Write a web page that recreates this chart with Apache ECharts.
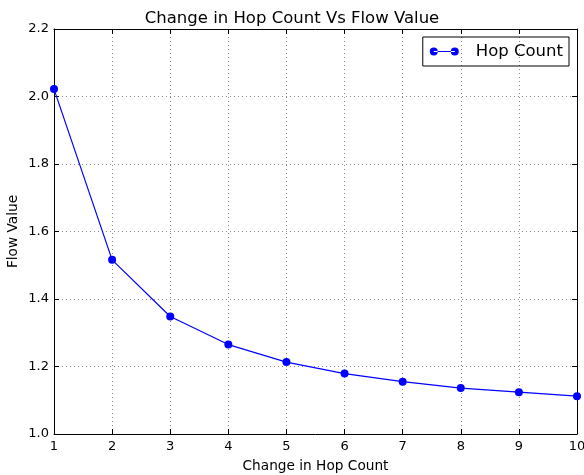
<!DOCTYPE html>
<html>
<head>
<meta charset="utf-8">
<script src="https://cdn.jsdelivr.net/npm/echarts@6/dist/echarts.min.js"></script>
<style>
  html, body { margin: 0; padding: 0; background: #fff; }
  #chart { width: 584px; height: 475px; }
</style>
</head>
<body>
<div id="chart"></div>
<script>
// data
const hopCount = [1, 2, 3, 4, 5, 6, 7, 8, 9, 10];
const flowValue = [2.022, 1.516, 1.348, 1.265, 1.213, 1.179, 1.155, 1.136, 1.124, 1.112];
const seriesName = 'Hop Count';

const chart = echarts.init(document.getElementById('chart'));
const font = 'DejaVu Sans';

// line with a dot at each end, like the matplotlib legend handle
const legendIcon = 'path://M0,5a5,5 0 1,0 10,0a5,5 0 1,0 -10,0Z' +
  'M26.25,5a5,5 0 1,0 10,0a5,5 0 1,0 -10,0Z' +
  'M5,4.3h26.25v1.4h-26.25Z';

const frameAxis = {
  type: 'value',
  axisLine: { show: true, onZero: false, lineStyle: { color: '#000', width: 1 } },
  axisTick: { show: true, inside: true, length: 5, lineStyle: { color: '#000' } },
  axisLabel: { show: false },
  splitLine: { show: false }
};

let option = {
  animation: false,
  textStyle: { fontFamily: font },
  title: {
    text: 'Change in Hop Count Vs Flow Value',
    left: 'center',
    top: 5,
    textStyle: { fontFamily: font, fontSize: 16.5, fontWeight: 'normal', color: '#000' }
  },
  legend: {
    data: [{ name: seriesName, icon: legendIcon }],
    right: 15,
    top: 37,
    itemWidth: 29,
    itemHeight: 8,
    itemGap: 10,
    padding: [6, 6, 6, 7],
    borderColor: '#000',
    borderWidth: 1,
    borderRadius: 0,
    textStyle: { fontFamily: font, fontSize: 16.5, color: '#000', padding: [0, 0, 0, 12] }
  },
  grid: { left: 54, right: 7, top: 29, bottom: 41, outerBoundsMode: 'none' },
  xAxis: [
    {
      type: 'value',
      min: 1, max: 10, interval: 1,
      name: 'Change in Hop Count',
      nameLocation: 'middle',
      nameGap: 25,
      nameMoveOverlap: false,
      nameTextStyle: { fontFamily: font, fontSize: 13.7, color: '#000' },
      axisLine: { onZero: false, lineStyle: { color: '#000' } },
      axisTick: { inside: true, length: 5, lineStyle: { color: '#000' } },
      axisLabel: { fontFamily: font, fontSize: 13, color: '#000', margin: 6 },
      splitLine: { show: true, lineStyle: { color: '#888', type: [1, 3] } }
    },
    Object.assign({}, frameAxis, { position: 'top', min: 1, max: 10, interval: 1 })
  ],
  yAxis: [
    {
      type: 'value',
      min: 1.0, max: 2.2, interval: 0.2,
      name: 'Flow Value',
      nameLocation: 'middle',
      nameGap: 34,
      nameMoveOverlap: false,
      nameTextStyle: { fontFamily: font, fontSize: 13.7, color: '#000' },
      axisLine: { show: true, lineStyle: { color: '#000' } },
      axisTick: { show: true, inside: true, length: 5, lineStyle: { color: '#000' } },
      axisLabel: { fontFamily: font, fontSize: 13, color: '#000', margin: 5,
        formatter: v => v.toFixed(1) },
      splitLine: { show: true, lineStyle: { color: '#888', type: [1, 3] } }
    },
    Object.assign({}, frameAxis, { position: 'right', min: 1.0, max: 2.2, interval: 0.2 })
  ],
  series: [
    {
      name: seriesName,
      type: 'line',
      data: hopCount.map((x, i) => [x, flowValue[i]]),
      symbol: 'circle',
      symbolSize: 8,
      lineStyle: { color: '#0000ff', width: 1.2 },
      itemStyle: { color: '#0000ff' }
    }
  ]
};

chart.setOption(option);
</script>
</body>
</html>
